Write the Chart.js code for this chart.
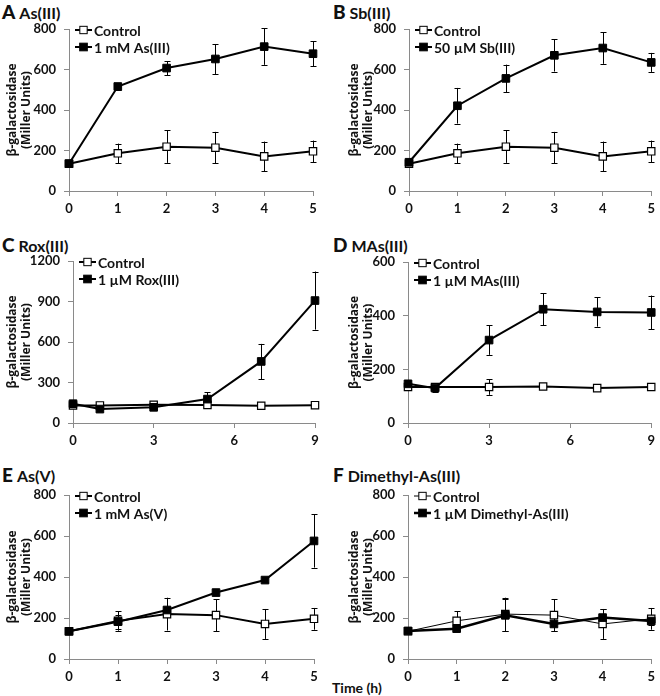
<!DOCTYPE html>
<html><head><meta charset="utf-8">
<script src="https://cdn.jsdelivr.net/npm/chart.js@4/dist/chart.umd.min.js"></script>
<style>
html,body{margin:0;padding:0;background:#fff;}
body{width:660px;height:696px;position:relative;overflow:hidden;font-family:Lato,"Open Sans",sans-serif;color:#111;}
canvas{position:absolute;}
.pt{position:absolute;font-weight:bold;font-size:16px;white-space:nowrap;line-height:20px;}
.pt b{font-size:19px;margin-right:4px;}
.xt{position:absolute;font-weight:bold;font-size:14px;left:332px;top:679px;}
</style></head>
<body>
<div class="pt" style="left:2px;top:2px"><b>A</b>As(III)</div>
<div class="pt" style="left:333px;top:2px"><b>B</b>Sb(III)</div>
<div class="pt" style="left:2px;top:235px"><b>C</b>Rox(III)</div>
<div class="pt" style="left:333px;top:235px"><b>D</b>MAs(III)</div>
<div class="pt" style="left:2px;top:465px"><b>E</b>As(V)</div>
<div class="pt" style="left:333px;top:465px"><b>F</b>Dimethyl-As(III)</div>
<div class="xt">Time (h)</div>
<canvas id="cA"></canvas><canvas id="cB"></canvas><canvas id="cC"></canvas>
<canvas id="cD"></canvas><canvas id="cE"></canvas><canvas id="cF"></canvas>
<script>
// ---- data ----
const timeHours = [0, 1, 2, 3, 4, 5];
const timeHoursLong = [0, 1, 3, 5, 7, 9];

const controlMean = [135, 186, 219, 214, 171, 196];
const controlErr  = [8, 48, 80, 78, 73, 53];

const asIIIMean = [135, 516, 607, 652, 713, 678];
const asIIIErr  = [8, 16, 35, 74, 90, 62];

const sbIIIMean = [142, 421, 556, 670, 706, 635];
const sbIIIErr  = [8, 88, 68, 80, 78, 47];

const controlRoxMean = [130, 130, 135, 133, 128, 132];
const controlRoxErr  = [8, 8, 10, 8, 6, 6];
const roxIIIMean = [143, 103, 116, 177, 456, 907];
const roxIIIErr  = [8, 8, 10, 50, 130, 215];

const controlMAsMean = [134, 134, 134, 136, 130, 134];
const controlMAsErr  = [10, 15, 29, 6, 6, 6];
const masIIIMean = [146, 130, 309, 424, 414, 412];
const masIIIErr  = [10, 15, 55, 60, 55, 63];

const asVMean = [135, 182, 239, 324, 385, 576];
const asVErr  = [8, 35, 15, 10, 10, 130];

const dmaIIIMean = [137, 148, 213, 171, 202, 185];
const dmaIIIErr  = [8, 10, 78, 35, 40, 20];

const yTicksA = [0, 200, 400, 600, 800];
const yTicksC = [0, 300, 600, 900, 1200];
const yTicksD = [0, 200, 400, 600];

// ---- plugins ----
const FONT = 'Lato, "Open Sans", sans-serif';
const TITLE_FONT = '"Open Sans", Lato, sans-serif';
const AXIS = '#8a8a8a';

const errorBars = {
  id: 'errorBars',
  beforeDatasetsDraw(chart) {
    const {ctx, scales: {x, y}} = chart;
    ctx.save();
    ctx.strokeStyle = '#000';
    ctx.lineWidth = 1;
    chart.data.datasets.forEach(ds => {
      if (!ds.errors) return;
      ds.data.forEach((p, j) => {
        const e = ds.errors[j];
        const px = Math.round(x.getPixelForValue(p.x)) + 0.5;
        const yt = y.getPixelForValue(p.y + e);
        const yb = y.getPixelForValue(p.y - e);
        ctx.beginPath();
        ctx.moveTo(px, yt); ctx.lineTo(px, yb);
        ctx.moveTo(px - 3, Math.round(yt) + 0.5); ctx.lineTo(px + 3, Math.round(yt) + 0.5);
        ctx.moveTo(px - 3, Math.round(yb) + 0.5); ctx.lineTo(px + 3, Math.round(yb) + 0.5);
        ctx.stroke();
      });
    });
    ctx.restore();
  }
};

const miniLegend = {
  id: 'miniLegend',
  afterDraw(chart) {
    const {ctx, chartArea} = chart;
    const items = [chart.data.datasets[1], chart.data.datasets[0]];
    ctx.save();
    items.forEach((ds, i) => {
      const yy = chartArea.top + 1 + i * 17;
      const x0 = chartArea.left + 6, x1 = chartArea.left + 23;
      ctx.strokeStyle = '#000';
      ctx.lineWidth = ds.borderWidth;
      ctx.beginPath(); ctx.moveTo(x0, yy); ctx.lineTo(x1, yy); ctx.stroke();
      const s = ds.pointRadius * Math.SQRT1_2;
      const cx = (x0 + x1) / 2;
      ctx.fillStyle = ds.pointBackgroundColor;
      ctx.fillRect(cx - s, yy - s, 2 * s, 2 * s);
      ctx.lineWidth = 1;
      ctx.strokeRect(cx - s, yy - s, 2 * s, 2 * s);
      ctx.fillStyle = '#111';
      ctx.font = 'bold 14px ' + FONT;
      ctx.textBaseline = 'middle';
      ctx.fillText(ds.label, x1 + 2, yy + 1);
    });
    ctx.restore();
  }
};

function pts(xs, ys) { return xs.map((v, i) => ({x: v, y: ys[i]})); }

function panel(id, cell, plot, xs, ctrlM, ctrlE, trtM, trtE, ctrlLabel, trtLabel, yTicks, xStep, titlePad, ctrlWidth, trtWidth) {
  const cv = document.getElementById(id);
  cv.width = cell.w; cv.height = cell.h;
  cv.style.left = cell.x + 'px'; cv.style.top = cell.y + 'px';
  const yW = plot.l - cell.x;
  const xH = cell.y + cell.h - plot.b;
  new Chart(cv, {
    type: 'line',
    data: {
      datasets: [
        { label: trtLabel, data: pts(xs, trtM), errors: trtE, order: 0,
          borderColor: '#000', borderWidth: trtWidth, tension: 0, clip: false,
          pointStyle: 'rect', pointRadius: 5.4, pointBackgroundColor: '#000',
          pointBorderColor: '#000', pointBorderWidth: 1 },
        { label: ctrlLabel, data: pts(xs, ctrlM), errors: ctrlE, order: 1,
          borderColor: '#000', borderWidth: ctrlWidth, tension: 0, clip: false,
          pointStyle: 'rect', pointRadius: 5.2, pointBackgroundColor: '#fff',
          pointBorderColor: '#000', pointBorderWidth: 1.2 }
      ]
    },
    options: {
      responsive: false, animation: false, devicePixelRatio: 1,
      layout: { padding: { left: 0, top: plot.t - cell.y, right: cell.x + cell.w - plot.r, bottom: 0 } },
      plugins: { legend: { display: false }, tooltip: { enabled: false } },
      scales: {
        x: {
          type: 'linear', min: 0, max: xs[xs.length - 1],
          afterFit(s) { s.height = xH; },
          ticks: { stepSize: xStep, padding: 5, color: '#111', font: { family: FONT, size: 13, weight: 'bold' }, maxRotation: 0,
                   callback: v => String(v) },
          grid: { drawOnChartArea: false, drawTicks: true, tickLength: 5, color: AXIS },
          border: { display: true, color: AXIS, width: 1 }
        },
        y: {
          type: 'linear', min: yTicks[0], max: yTicks[yTicks.length - 1],
          afterFit(s) { s.width = yW; },
          afterBuildTicks(s) { s.ticks = yTicks.map(v => ({value: v})); },
          ticks: { padding: 8, color: '#111', font: { family: FONT, size: 13, weight: 'bold' },
                   callback: v => String(v) },
          grid: { drawOnChartArea: false, drawTicks: true, tickLength: 5, color: AXIS },
          border: { display: true, color: AXIS, width: 1 },
          title: { display: true, text: ['β-galactosidase', '(Miller Units)'], color: '#111',
                   font: { family: TITLE_FONT, size: 12, weight: 'bold', lineHeight: 1.2 },
                   padding: { top: titlePad, bottom: 0 } }
        }
      }
    },
    plugins: [errorBars, miniLegend]
  });
}

panel('cA', {x: 0, y: 0, w: 330, h: 230}, {l: 69, t: 29, r: 313, b: 191}, timeHours,
  controlMean, controlErr, asIIIMean, asIIIErr, 'Control', '1 mM As(III)', yTicksA, 1, 5, 2, 2);
panel('cB', {x: 330, y: 0, w: 330, h: 230}, {l: 409, t: 29, r: 653, b: 191}, timeHours,
  controlMean, controlErr, sbIIIMean, sbIIIErr, 'Control', '50 µM Sb(III)', yTicksA, 1, 17, 2, 2);
panel('cC', {x: 0, y: 230, w: 330, h: 230}, {l: 73, t: 261, r: 315, b: 423}, timeHoursLong,
  controlRoxMean, controlRoxErr, roxIIIMean, roxIIIErr, 'Control', '1 µM Rox(III)', yTicksC, 3, 5, 2, 2);
panel('cD', {x: 330, y: 230, w: 330, h: 230}, {l: 408, t: 262, r: 655, b: 423}, timeHoursLong,
  controlMAsMean, controlMAsErr, masIIIMean, masIIIErr, 'Control', '1 µM MAs(III)', yTicksD, 3, 17, 2, 2);
panel('cE', {x: 0, y: 460, w: 330, h: 236}, {l: 69, t: 495, r: 314, b: 659}, timeHours,
  controlMean, controlErr, asVMean, asVErr, 'Control', '1 mM As(V)', yTicksA, 1, 5, 2, 2);
panel('cF', {x: 330, y: 460, w: 330, h: 236}, {l: 408, t: 495, r: 653, b: 659}, timeHours,
  controlMean, controlErr, dmaIIIMean, dmaIIIErr, 'Control', '1 µM Dimethyl-As(III)', yTicksA, 1, 17, 1, 2.5);
</script>
</body></html>
